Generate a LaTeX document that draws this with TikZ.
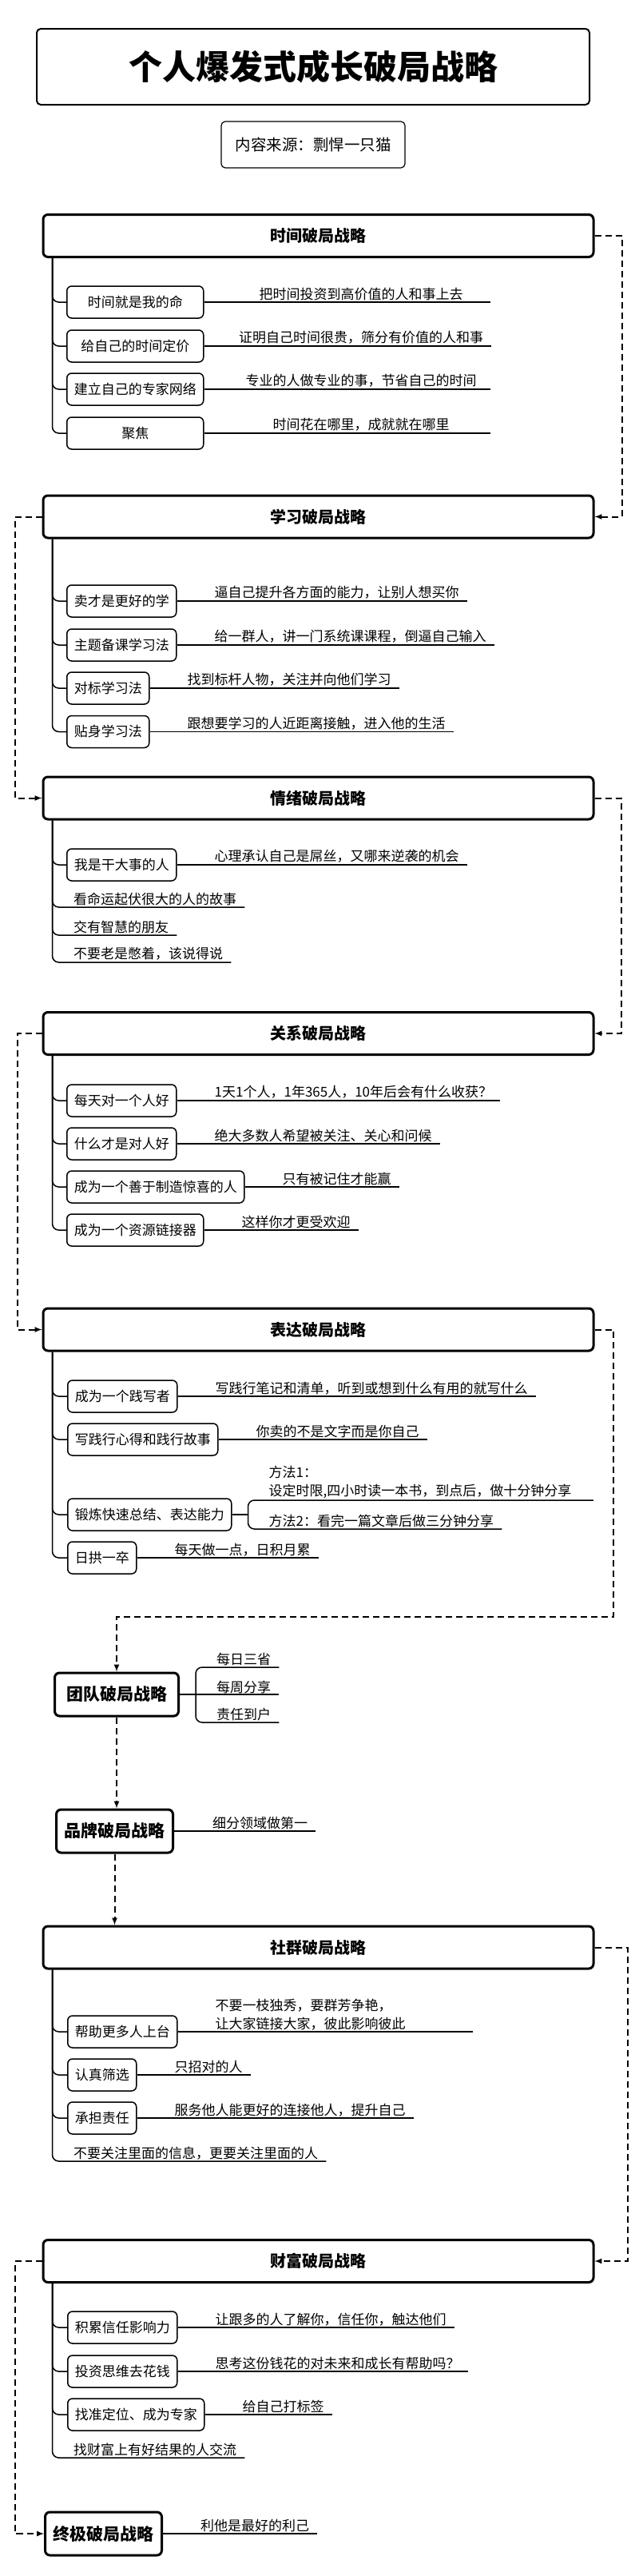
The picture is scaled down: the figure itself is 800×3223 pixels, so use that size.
\documentclass[tikz,border=0pt]{standalone}
\usepackage{fontspec}
\setmainfont{Noto Sans CJK SC}
\usepackage{tikz}
\pgfdeclarelayer{nodelayer}
\pgfdeclarelayer{edgelayer}
\pgfsetlayers{edgelayer,nodelayer,main}
\tikzstyle{title box}=[draw=black, line width=2pt, rounded corners=5pt, minimum width=692pt, minimum height=95pt, font=\fontsize{42}{48}\selectfont\bfseries]
\tikzstyle{source box}=[draw=black, line width=1.2pt, rounded corners=5pt, minimum width=230pt, minimum height=58pt, font=\fontsize{19.5}{23}\selectfont]
\tikzstyle{header box}=[draw=black, fill=white, line width=3pt, rounded corners=6pt, minimum width=689pt, minimum height=53pt, font=\fontsize{20}{24}\selectfont\bfseries]
\tikzstyle{root box}=[draw=black, fill=white, line width=3pt, rounded corners=6pt, minimum height=54pt, inner xsep=10pt, anchor=west, font=\fontsize{21}{24}\selectfont\bfseries]
\tikzstyle{topic box}=[draw=black, fill=white, line width=1.5pt, rounded corners=6pt, minimum height=40pt, inner xsep=9pt, anchor=west, font=\fontsize{17}{20}\selectfont]
\tikzstyle{note text}=[inner xsep=10pt, inner ysep=2pt, anchor=south west, align=left, font=\fontsize{17}{23}\selectfont]
\tikzstyle{branch edge}=[line width=1.5pt, rounded corners=8pt]
\tikzstyle{flow edge}=[line width=2pt, dash pattern=on 8pt off 5pt, -latex]
\begin{document}
\begin{tikzpicture}[x=1pt, y=-1pt]
	\useasboundingbox (0,0) rectangle (800,3223);
	\begin{pgfonlayer}{nodelayer}
		\node [style=title box] (0) at (392, 83.5) {个人爆发式成长破局战略};
		\node [style=source box] (1) at (392, 181) {内容来源：剽悍一只猫};
		% time
		\node [style=header box] (2) at (398.5, 295) {时间破局战略};
		\node [style=topic box, minimum width=171pt] (3) at (83, 378) {时间就是我的命};
		\node [style=note text, anchor=south, minimum width=324pt] (4) at (452, 378) {把时间投资到高价值的人和事上去};
		\node [style=topic box, minimum width=171pt] (5) at (83, 433) {给自己的时间定价};
		\node [style=note text, anchor=south, minimum width=324pt] (6) at (452, 433) {证明自己时间很贵，筛分有价值的人和事};
		\node [style=topic box, minimum width=171pt] (7) at (83, 487) {建立自己的专家网络};
		\node [style=note text, anchor=south, minimum width=324pt] (8) at (452, 487) {专业的人做专业的事，节省自己的时间};
		\node [style=topic box, minimum width=171pt] (9) at (83, 542) {聚焦};
		\node [style=note text, anchor=south, minimum width=324pt] (10) at (452, 542) {时间花在哪里，成就就在哪里};
		% learning
		\node [style=header box] (11) at (398.5, 646.5) {学习破局战略};
		\node [style=topic box] (12) at (83, 752) {卖才是更好的学};
		\node [style=note text] (13) at ([xshift=37pt]12.east) {逼自己提升各方面的能力，让别人想买你};
		\node [style=topic box] (14) at (83, 807) {主题备课学习法};
		\node [style=note text] (15) at ([xshift=37pt]14.east) {给一群人，讲一门系统课课程，倒逼自己输入};
		\node [style=topic box] (16) at (83, 861) {对标学习法};
		\node [style=note text] (17) at ([xshift=37pt]16.east) {找到标杆人物，关注并向他们学习};
		\node [style=topic box] (18) at (83, 915.5) {贴身学习法};
		\node [style=note text] (19) at ([xshift=37pt]18.east) {跟想要学习的人近距离接触，进入他的生活};
		% emotion
		\node [style=header box] (20) at (398.5, 998.5) {情绪破局战略};
		\node [style=topic box] (21) at (83, 1082) {我是干大事的人};
		\node [style=note text] (22) at ([xshift=37pt]21.east) {心理承认自己是屌丝，又哪来逆袭的机会};
		\node [style=note text] (23) at (82, 1135) {看命运起伏很大的人的故事};
		\node [style=note text] (24) at (82, 1170) {交有智慧的朋友};
		\node [style=note text] (25) at (82, 1204) {不要老是憋着，该说得说};
		% relation
		\node [style=header box] (26) at (398.5, 1293) {关系破局战略};
		\node [style=topic box] (27) at (83, 1377) {每天对一个人好};
		\node [style=note text] (28) at ([xshift=37pt]27.east) {1天1个人，1年365人，10年后会有什么收获？};
		\node [style=topic box] (29) at (83, 1431) {什么才是对人好};
		\node [style=note text] (30) at ([xshift=37pt]29.east) {绝大多数人希望被关注、关心和问候};
		\node [style=topic box] (31) at (83, 1485) {成为一个善于制造惊喜的人};
		\node [style=note text] (32) at ([xshift=37pt]31.east) {只有被记住才能赢};
		\node [style=topic box] (33) at (83, 1539) {成为一个资源链接器};
		\node [style=note text] (34) at ([xshift=37pt]33.east) {这样你才更受欢迎};
		% expression
		\node [style=header box] (35) at (398.5, 1663.5) {表达破局战略};
		\node [style=topic box] (36) at (84, 1747) {成为一个践写者};
		\node [style=note text] (37) at ([xshift=37pt]36.east) {写践行笔记和清单，听到或想到什么有用的就写什么};
		\node [style=topic box] (38) at (84, 1801) {写践行心得和践行故事};
		\node [style=note text] (39) at ([xshift=37pt]38.east) {你卖的不是文字而是你自己};
		\node [style=topic box] (40) at (84, 1895) {锻炼快速总结、表达能力};
		\node [style=note text, text width=396pt] (41) at ([xshift=36pt, yshift=18pt]40.east) {方法1：\\设定时限,四小时读一本书，到点后，做十分钟分享};
		\node [style=note text] (42) at ([xshift=36pt, yshift=-18pt]40.east) {方法2：看完一篇文章后做三分钟分享};
		\node [style=topic box] (43) at (84, 1949) {日拱一卒};
		\node [style=note text] (44) at ([xshift=37pt]43.east) {每天做一点，日积月累};
		% team
		\node [style=root box, minimum width=155pt] (45) at (67, 2120) {团队破局战略};
		\node [style=note text] (46) at ([xshift=36pt, yshift=34pt]45.east) {每日三省};
		\node [style=note text] (47) at ([xshift=36pt, yshift=-1pt]45.east) {每周分享};
		\node [style=note text] (48) at ([xshift=36pt, yshift=-35pt]45.east) {责任到户};
		% brand
		\node [style=root box] (49) at (69, 2291) {品牌破局战略};
		\node [style=note text] (50) at ([xshift=38pt]49.east) {细分领域做第一};
		% community
		\node [style=header box] (51) at (398.5, 2436.5) {社群破局战略};
		\node [style=topic box] (52) at (84, 2542) {帮助更多人上台};
		\node [style=note text, text width=312pt] (53) at ([xshift=37pt]52.east) {不要一枝独秀，要群芳争艳，\\让大家链接大家，彼此影响彼此};
		\node [style=topic box] (54) at (84, 2596) {认真筛选};
		\node [style=note text] (55) at ([xshift=37pt]54.east) {只招对的人};
		\node [style=topic box] (56) at (84, 2650) {承担责任};
		\node [style=note text] (57) at ([xshift=37pt]56.east) {服务他人能更好的连接他人，提升自己};
		\node [style=note text] (58) at (82, 2704) {不要关注里面的信息，更要关注里面的人};
		% wealth
		\node [style=header box] (59) at (398.5, 2829) {财富破局战略};
		\node [style=topic box] (60) at (84, 2912) {积累信任影响力};
		\node [style=note text] (61) at ([xshift=37pt]60.east) {让跟多的人了解你，信任你，触达他们};
		\node [style=topic box] (62) at (84, 2967) {投资思维去花钱};
		\node [style=note text] (63) at ([xshift=37pt]62.east) {思考这份钱花的对未来和成长有帮助吗？};
		\node [style=topic box] (64) at (84, 3021) {找准定位、成为专家};
		\node [style=note text] (65) at ([xshift=37pt]64.east) {给自己打标签};
		\node [style=note text] (66) at (82, 3075) {找财富上有好结果的人交流};
		% final
		\node [style=root box] (67) at (55, 3170) {终极破局战略};
		\node [style=note text] (68) at ([xshift=37pt]67.east) {利他是最好的利己};
		\coordinate (k) at (768, 2023);
		\coordinate (j1) at ([xshift=20pt]40.east);
		\coordinate (j2) at ([xshift=20pt]45.east);
	\end{pgfonlayer}
	\begin{pgfonlayer}{edgelayer}
		% time
		\foreach \t/\n in {3/4, 5/6, 7/8, 9/10} {
			\draw [style=branch edge] ([xshift=13pt]2.south west) |- (\t.west);
			\draw [style=branch edge] (\t.east) to (\t.east -| \n.south east);
		}
		% learning
		\foreach \t/\n in {12/13, 14/15, 16/17, 18/19} {
			\draw [style=branch edge] ([xshift=13pt]11.south west) |- (\t.west);
			\draw [style=branch edge] (\t.east) to (\t.east -| \n.south east);
		}
		% emotion
		\draw [style=branch edge] ([xshift=13pt]20.south west) |- (21.west);
		\draw [style=branch edge] (21.east) to (21.east -| 22.south east);
		\foreach \n in {23, 24, 25}
			\draw [style=branch edge] ([xshift=13pt]20.south west) |- (\n.south east);
		% relation
		\foreach \t/\n in {27/28, 29/30, 31/32, 33/34} {
			\draw [style=branch edge] ([xshift=13pt]26.south west) |- (\t.west);
			\draw [style=branch edge] (\t.east) to (\t.east -| \n.south east);
		}
		% expression
		\foreach \t/\n in {36/37, 38/39, 43/44} {
			\draw [style=branch edge] ([xshift=13pt]35.south west) |- (\t.west);
			\draw [style=branch edge] (\t.east) to (\t.east -| \n.south east);
		}
		\draw [style=branch edge] ([xshift=13pt]35.south west) |- (40.west);
		\draw [style=branch edge] (40.east) to (j1);
		\draw [style=branch edge] (j1) |- (41.south east);
		\draw [style=branch edge] (j1) |- (42.south east);
		% team, brand
		\draw [style=branch edge] (45.east) to (45.east -| 47.south east);
		\draw [style=branch edge] (j2) |- (46.south east);
		\draw [style=branch edge] (j2) |- (48.south east);
		\draw [style=branch edge] (49.east) to (49.east -| 50.south east);
		% community
		\foreach \t/\n in {52/53, 54/55, 56/57} {
			\draw [style=branch edge] ([xshift=13pt]51.south west) |- (\t.west);
			\draw [style=branch edge] (\t.east) to (\t.east -| \n.south east);
		}
		\draw [style=branch edge] ([xshift=13pt]51.south west) |- (58.south east);
		% wealth
		\foreach \t/\n in {60/61, 62/63, 64/65} {
			\draw [style=branch edge] ([xshift=13pt]59.south west) |- (\t.west);
			\draw [style=branch edge] (\t.east) to (\t.east -| \n.south east);
		}
		\draw [style=branch edge] ([xshift=13pt]59.south west) |- (66.south east);
		\draw [style=branch edge] (67.east) to (67.east -| 68.south east);
		% flow between strategies
		\draw [style=flow edge] (2.east) -- ++(34,0) |- (11.east);
		\draw [style=flow edge] (11.west) -- ++(-34,0) |- (20.west);
		\draw [style=flow edge] (20.east) -- ++(33,0) |- (26.east);
		\draw [style=flow edge] (26.west) -- ++(-31,0) |- (35.west);
		\draw [style=flow edge] (35.east) -| (k) -| (45.north);
		\draw [style=flow edge] (45.south) to (45.south |- 49.north);
		\draw [style=flow edge] (49.south) to (49.south |- 51.north);
		\draw [style=flow edge] (51.east) -- ++(41,0) |- (59.east);
		\draw [style=flow edge] (59.west) -- ++(-34,0) |- (67.west);
	\end{pgfonlayer}
\end{tikzpicture}
\end{document}
